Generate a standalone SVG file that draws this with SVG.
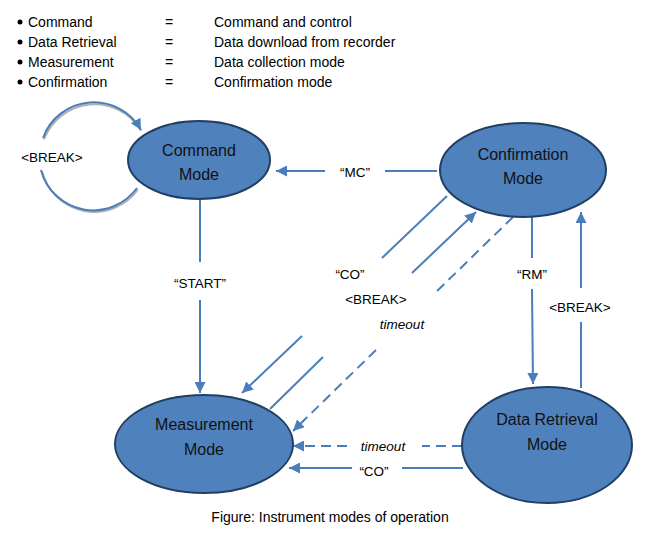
<svg xmlns="http://www.w3.org/2000/svg" width="671" height="536" viewBox="0 0 671 536">
<style>
text{font-family:"Liberation Sans",Arial,sans-serif;fill:#000}
.leg{font-size:14px}
.lbl{font-size:13.5px;text-anchor:middle}
.it{font-style:italic}
.node ellipse{fill:#4f81bd;stroke:#213f63;stroke-width:2}
.node text{font-size:16px;text-anchor:middle;fill:#111}
.c{stroke:#4a7ebb;stroke-width:2;fill:none}
.d{stroke-dasharray:10 6}
.cap{font-size:14px;text-anchor:middle}
</style>
<defs>
<marker id="ah" markerUnits="userSpaceOnUse" markerWidth="11" markerHeight="11" refX="10" refY="5" orient="auto" viewBox="0 0 10 10">
<path d="M0,0 L10,5 L0,10 z" fill="#4a7ebb"/>
</marker>
</defs>
<rect width="671" height="536" fill="#fff"/>
<g id="legend">
<circle cx="20" cy="22" r="2.5" fill="#000"/>
<circle cx="20" cy="42" r="2.5" fill="#000"/>
<circle cx="20" cy="62" r="2.5" fill="#000"/>
<circle cx="20" cy="82" r="2.5" fill="#000"/>
<text class="leg" x="28" y="27">Command</text>
<text class="leg" x="28" y="47">Data Retrieval</text>
<text class="leg" x="28" y="67">Measurement</text>
<text class="leg" x="28" y="87">Confirmation</text>
<text class="leg" x="165" y="27">=</text>
<text class="leg" x="165" y="47">=</text>
<text class="leg" x="165" y="67">=</text>
<text class="leg" x="165" y="87">=</text>
<text class="leg" x="214" y="27">Command and control</text>
<text class="leg" x="214" y="47">Data download from recorder</text>
<text class="leg" x="214" y="67">Data collection mode</text>
<text class="leg" x="214" y="87">Confirmation mode</text>
</g>
<g id="connectors">
<path d="M43,138 A54,54 0 0 1 140,129" stroke="#b0b0b0" stroke-width="2" fill="none" transform="translate(1,1.5)"/>
<path d="M41,170 A54,54 0 0 0 137,188" stroke="#b0b0b0" stroke-width="2" fill="none" transform="translate(1,1.5)"/>
<path class="c" d="M43,138 A54,54 0 0 1 141,130" marker-end="url(#ah)"/>
<path class="c" d="M41,170 A54,54 0 0 0 137,188"/>
<line class="c" x1="437" y1="171" x2="385" y2="171"/>
<line class="c" x1="325" y1="171" x2="276" y2="171" marker-end="url(#ah)"/>
<line class="c" x1="200" y1="198" x2="200" y2="262"/>
<line class="c" x1="200" y1="300" x2="200" y2="393" marker-end="url(#ah)"/>
<line class="c" x1="447" y1="196" x2="382" y2="258"/>
<line class="c" x1="302" y1="336" x2="242" y2="393" marker-end="url(#ah)"/>
<line class="c" x1="270" y1="409" x2="323" y2="357"/>
<line class="c" x1="412" y1="273" x2="476" y2="212" marker-end="url(#ah)"/>
<line class="c d" x1="513" y1="217" x2="433" y2="295"/>
<line class="c d" x1="376" y1="350" x2="293" y2="431" marker-end="url(#ah)"/>
<line class="c" x1="532" y1="217" x2="532" y2="258"/>
<line class="c" x1="532" y1="289" x2="533" y2="384" marker-end="url(#ah)"/>
<line class="c" x1="581" y1="388" x2="581" y2="322"/>
<line class="c" x1="581" y1="288" x2="581" y2="212" marker-end="url(#ah)"/>
<line class="c d" x1="462" y1="446" x2="422" y2="446"/>
<line class="c d" x1="347" y1="446" x2="293" y2="446" marker-end="url(#ah)"/>
<line class="c" x1="463" y1="468" x2="402" y2="468"/>
<line class="c" x1="352" y1="468" x2="289" y2="468" marker-end="url(#ah)"/>
<text class="lbl" x="52" y="162">&lt;BREAK&gt;</text>
<text class="lbl" x="355" y="177">“MC”</text>
<text class="lbl" x="200" y="288">“START”</text>
<text class="lbl" x="350" y="279">“CO”</text>
<text class="lbl" x="376" y="304">&lt;BREAK&gt;</text>
<text class="lbl it" x="402" y="329">timeout</text>
<text class="lbl" x="532" y="279">“RM”</text>
<text class="lbl" x="580" y="312">&lt;BREAK&gt;</text>
<text class="lbl it" x="383" y="451">timeout</text>
<text class="lbl" x="374" y="476">“CO”</text>
</g>
<g id="command" class="node">
<ellipse cx="199" cy="160" rx="71" ry="39"/>
<text x="199" y="156">Command</text>
<text x="199" y="180">Mode</text>
</g>
<g id="confirmation" class="node">
<ellipse cx="523" cy="170" rx="83" ry="47"/>
<text x="523" y="160">Confirmation</text>
<text x="523" y="184">Mode</text>
</g>
<g id="measurement" class="node">
<ellipse cx="204" cy="444" rx="89" ry="49"/>
<text x="204" y="430">Measurement</text>
<text x="204" y="455">Mode</text>
</g>
<g id="dataretrieval" class="node">
<ellipse cx="547" cy="445" rx="85" ry="58"/>
<text x="547" y="425">Data Retrieval</text>
<text x="547" y="450">Mode</text>
</g>
<text class="cap" x="330" y="522">Figure: Instrument modes of operation</text>
</svg>
